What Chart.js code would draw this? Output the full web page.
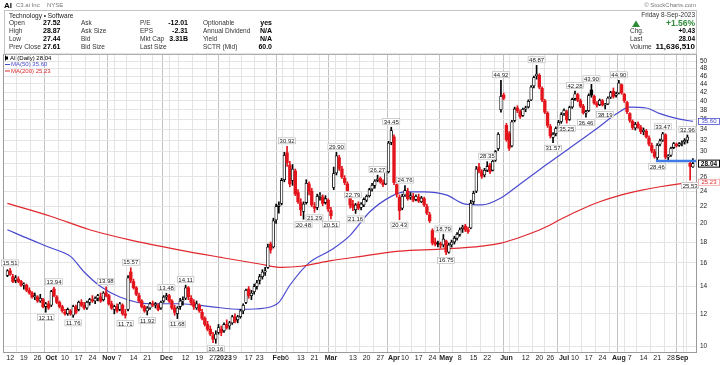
<!DOCTYPE html>
<html><head><meta charset="utf-8">
<script src="https://cdn.jsdelivr.net/npm/chart.js@4.4.1/dist/chart.umd.min.js"></script>
<style>html,body{margin:0;padding:0;background:#fff;}#wrap{width:720px;height:365px;}</style>
</head><body><div id="wrap"><canvas id="c" width="720" height="365"></canvas></div>
<script>
// ---------- DATA (daily candles, trading day index 0 = 9-Sep-2022 ... 250 = 8-Sep-2023) ----------
const opens=[14.9,15.3,14.8,14.5,14.6,14.4,14.1,14.1,13.7,13.5,
13.2,13.2,12.9,13.0,12.5,12.7,12.6,13.8,13.2,12.8,
12.5,12.1,12.0,12.2,11.9,12.5,12.3,12.8,12.6,12.4,
12.8,13.0,12.9,13.1,13.2,13.0,13.5,13.3,12.7,12.3,
12.5,12.3,12.6,12.0,12.3,15.2,14.4,13.9,13.3,12.9,
12.5,12.2,12.4,12.7,12.6,12.6,12.4,12.9,13.2,13.3,
12.9,12.4,12.0,12.5,12.9,13.1,13.9,13.1,12.8,12.4,
12.6,12.1,11.7,11.3,11.0,10.6,10.4,10.8,11.0,10.9,
11.3,11.2,11.4,11.8,11.6,11.8,12.2,12.8,13.8,13.3,
13.6,14.0,14.5,14.8,15.2,15.6,17.8,17.5,20.4,22.0,
22.4,25.6,29.8,27.8,25.5,26.9,23.8,22.5,21.4,22.5,
25.0,24.0,22.0,21.9,23.3,23.2,22.5,22.8,21.5,24.5,
26.6,29.0,27.2,25.8,25.0,23.5,22.3,21.6,22.3,21.9,
22.2,22.8,23.4,24.3,24.8,25.5,25.8,25.2,25.0,26.8,
31.6,32.6,24.9,23.2,21.8,23.5,24.0,23.2,23.3,22.9,
23.2,22.6,23.0,22.0,21.0,19.2,18.0,17.9,17.8,17.7,
18.1,17.0,17.7,18.0,18.4,18.8,19.4,19.7,19.3,19.5,
22.6,24.0,27.5,26.8,26.3,27.0,27.8,27.0,28.6,30.5,
38.0,41.3,34.8,33.2,31.0,35.8,38.4,37.6,36.8,38.2,
38.6,40.2,43.5,46.0,46.2,42.9,40.0,37.3,34.6,32.5,
33.2,34.4,35.6,37.2,37.6,36.0,38.6,40.5,41.4,40.0,
38.8,37.3,37.8,42.5,41.0,39.4,39.1,40.0,39.0,39.3,
40.8,42.2,41.2,41.8,43.8,41.5,39.6,37.2,35.6,34.3,
35.1,34.4,33.6,33.7,32.4,31.1,30.0,29.0,31.3,32.0,
33.0,29.1,29.4,30.7,31.3,31.1,31.4,31.7,32.0,28.1,
27.52];
const highs=[15.4,15.51,15.0,14.9,14.8,14.5,14.3,14.2,13.9,13.6,
13.5,13.3,13.4,13.1,12.8,12.9,13.7,13.94,13.3,12.9,
12.6,12.3,12.4,12.3,12.6,12.6,12.9,13.0,12.8,12.9,
13.1,13.3,13.2,13.4,13.5,13.6,13.98,13.4,12.9,12.6,
12.7,12.8,12.7,12.3,14.9,15.57,14.6,14.0,13.5,13.0,
12.6,12.5,12.8,12.9,12.8,12.7,12.9,13.3,13.48,13.4,
13.0,12.6,12.5,13.1,13.2,14.11,14.0,13.3,13.0,12.9,
12.7,12.3,11.8,11.5,11.2,10.8,10.9,11.3,11.2,11.4,
11.6,11.5,11.9,12.0,11.9,12.3,12.7,13.8,14.0,13.7,
14.2,14.5,15.0,15.4,15.6,17.8,18.0,20.6,22.3,22.6,
25.8,29.9,30.92,28.4,27.9,27.2,24.2,23.0,22.6,25.6,
25.3,24.4,22.5,23.6,23.8,23.5,23.4,23.0,21.9,27.5,
29.90,29.4,27.6,26.2,25.3,23.9,22.79,22.4,22.6,22.5,
23.1,23.5,24.4,25.1,25.6,26.27,26.0,25.6,26.9,31.8,
34.45,33.0,25.3,23.5,23.6,24.76,24.4,23.8,23.7,23.5,
23.6,23.3,23.2,22.3,21.3,19.4,18.4,18.1,18.0,18.79,
18.2,17.9,18.2,18.6,19.0,19.5,19.8,19.9,19.6,22.8,
24.0,27.6,28.1,27.1,27.3,28.35,28.1,28.6,30.2,33.4,
44.92,41.8,35.2,33.6,35.8,38.6,38.9,38.0,38.4,38.8,
40.2,43.6,46.0,48.87,46.6,43.3,40.3,37.6,35.0,33.4,
34.5,35.8,37.4,38.2,37.9,38.8,40.6,42.28,41.7,40.4,
39.2,37.9,41.6,43.90,41.3,39.8,40.4,40.3,39.4,40.9,
42.2,43.0,42.0,44.90,44.0,41.7,39.9,37.4,35.9,35.4,
35.5,34.8,34.3,34.0,32.8,31.5,30.4,31.4,32.2,33.47,
33.2,29.5,30.8,31.6,31.5,31.6,31.9,32.3,32.96,28.4,
28.87];
const lows=[14.8,14.9,14.3,14.3,14.3,14.0,13.8,13.6,13.4,13.1,
13.0,12.8,12.8,12.4,12.11,12.3,12.5,13.2,12.7,12.4,
12.1,11.9,11.9,11.9,11.76,12.0,12.2,12.5,12.3,12.3,
12.6,12.8,12.7,12.9,12.8,12.9,13.2,12.6,12.3,12.0,
12.1,12.2,11.9,11.71,12.2,14.3,13.8,13.3,12.8,12.4,
12.1,11.92,12.3,12.5,12.4,12.2,12.3,12.8,13.0,12.8,
12.3,11.9,11.68,12.3,12.6,13.0,13.0,12.6,12.3,12.3,
12.1,11.6,11.2,10.9,10.6,10.2,10.16,10.7,10.6,10.8,
11.0,11.0,11.3,11.4,11.4,11.7,12.0,12.7,13.1,13.0,
13.4,13.8,14.2,14.6,14.9,15.5,16.9,17.4,20.0,21.2,
22.2,25.3,27.6,24.6,24.8,23.4,22.4,20.9,20.48,22.3,
23.5,22.0,21.29,21.6,22.8,22.1,22.3,21.4,20.51,24.2,
26.3,27.0,25.8,24.9,23.2,21.8,21.5,21.16,21.6,21.6,
22.0,22.6,23.2,24.0,24.4,25.3,25.1,24.6,24.9,26.6,
31.2,24.9,23.2,20.43,21.6,23.3,22.8,22.9,22.6,22.7,
22.5,22.5,22.0,21.0,20.1,17.7,17.6,17.5,17.4,17.5,
16.75,16.9,17.5,17.8,18.2,18.6,19.0,19.1,18.9,19.4,
22.3,23.8,26.6,25.8,26.0,26.8,26.5,26.9,28.4,30.2,
37.5,40.2,31.8,30.2,30.8,35.5,37.4,36.2,36.6,37.6,
38.4,40.0,43.0,45.2,42.8,39.8,37.2,34.4,32.4,31.57,
32.8,34.0,35.2,36.8,35.25,35.8,38.3,40.1,39.8,38.5,
37.1,36.46,37.6,40.8,39.2,38.6,38.9,38.8,38.19,39.1,
40.5,40.6,40.8,41.6,41.5,39.6,37.2,35.4,34.0,33.9,
34.2,33.2,33.0,32.4,31.0,29.8,28.9,28.46,31.0,31.8,
28.8,28.6,29.2,30.5,30.8,30.9,31.0,31.3,31.5,25.53,
27.44];
const closes=[15.3,15.0,14.4,14.7,14.4,14.1,14.2,13.7,13.5,13.2,
13.3,12.9,13.1,12.5,12.7,12.4,13.6,13.3,12.8,12.5,
12.2,12.0,12.3,12.0,12.5,12.1,12.8,12.6,12.4,12.8,
13.0,12.9,13.1,13.3,12.9,13.5,13.3,12.7,12.4,12.5,
12.2,12.7,12.0,11.9,14.7,14.5,13.9,13.4,12.9,12.5,
12.2,12.4,12.7,12.6,12.7,12.3,12.8,13.2,13.3,12.9,
12.4,12.1,12.4,12.9,13.0,13.9,13.2,12.8,12.5,12.7,
12.2,11.7,11.3,11.0,10.7,10.4,10.7,11.1,10.8,11.3,
11.1,11.4,11.8,11.5,11.8,12.2,12.6,13.7,13.3,13.5,
14.0,14.3,14.8,15.2,15.3,17.5,17.2,20.3,22.0,22.2,
25.5,29.4,28.2,25.0,27.2,23.6,22.6,21.6,22.3,25.1,
24.0,22.2,21.8,23.3,23.4,22.4,23.0,21.7,20.9,26.5,
29.3,27.3,26.0,25.2,23.4,22.2,21.9,22.2,21.8,22.3,
22.9,23.3,24.2,24.8,25.4,25.7,25.3,24.9,26.7,31.5,
33.8,25.2,23.6,21.5,23.3,24.1,23.0,23.4,22.8,23.3,
22.7,23.1,22.2,21.2,20.3,17.9,17.8,17.8,17.7,18.3,
17.0,17.7,18.0,18.4,18.8,19.3,19.6,19.3,19.1,22.4,
23.7,27.2,26.9,26.1,27.0,27.6,26.8,28.4,30.0,33.1,
41.0,40.6,32.1,30.6,35.5,38.2,37.8,36.6,38.1,38.4,
39.9,43.2,45.6,46.5,43.2,40.2,37.5,34.8,32.8,33.1,
34.2,35.4,37.0,37.9,35.9,38.5,40.3,41.6,40.1,38.8,
37.4,37.6,41.2,41.3,39.5,39.0,40.1,39.1,39.2,40.6,
41.9,41.0,41.6,44.2,41.8,40.0,37.6,35.8,34.4,35.0,
34.5,33.6,33.9,32.6,31.3,30.1,29.2,31.1,31.9,33.2,
29.1,29.3,30.6,31.4,31.0,31.4,31.6,32.0,32.6,27.61,
28.04];

// Moving averages (trading-day index, value)
const ma50Idx=[0,8,16,23,28,34,41,52,63,74,85,94,99,103,110,118,125,132,140,145,152,160,167,173,180,187,196,205,215,222,227,233,238,244,250];
const ma50Val=[19.3,18.3,17.4,16.6,15.2,14.0,13.2,12.7,12.7,12.5,12.3,12.4,12.8,14.1,16.0,17.2,18.7,21.3,23.3,23.9,23.9,23.5,22.3,22.2,23.1,25.0,27.7,30.6,34.2,37.1,38.6,38.4,37.2,36.2,35.6];
const ma200Idx=[0,16,30,45,63,78,92,100,107,118,129,143,158,173,180,187,195,202,209,216,224,231,238,245,250];
const ma200Val=[22.4,20.8,19.3,18.2,17.2,16.5,15.9,15.6,15.7,16.2,16.6,17.1,17.3,17.6,17.9,18.5,19.4,20.5,21.6,22.6,23.5,24.1,24.6,25.0,25.23];

// Horizontal support line
const supportFrom=237, supportLevel=28.46;

// Labelled highs / lows (trading-day index)
const highLabelIdx=[1,17,36,45,58,65,102,120,126,135,140,145,159,175,180,193,207,213,223,239,248];
const lowLabelIdx=[14,24,43,51,62,76,108,112,118,127,143,160,199,204,211,218,237,249];

// Axis ticks
const xTickIdx=[1,6,11,16,21,26,31,36,37,41,46,51,55,58,60,65,70,75,79,83,88,92,97,99,102,107,112,116,118,121,126,131,136,141,145,150,155,160,165,170,175,180,182,184,189,194,198,203,207,212,217,222,223,227,232,237,242,246,247];
const xTickLbl=['12','19','26','Oct','10','17','24','','Nov','7','14','21','','Dec','','12','19','27','2023','9','17','23','','Feb','6','13','21','','Mar','','13','20','27','Apr','10','17','24','May','8','15','22','','Jun','','12','20','26','Jul','10','17','24','','Aug','7','14','21','28','Sep',''];
const monthTickIdx=[16,37,58,79,99,118,141,160,182,203,223,246];
const yTicks=[10,12,14,16,18,20,22,24,26,28,30,32,34,36,38,40,42,44,46,48,50];

// Header text
const infoRows=[
 ['Open','27.52','Ask','','P/E','-12.01','Optionable','yes'],
 ['High','28.87','Ask Size','','EPS','-2.31','Annual Dividend','N/A'],
 ['Low','27.44','Bid','','Mkt Cap','3.31B','Yield','N/A'],
 ['Prev Close','27.61','Bid Size','','Last Size','','SCTR (Mid)','60.0']];
const quoteDate='Friday 8-Sep-2023', quotePct='+1.56%', quoteChg='+0.43', quoteLast='28.04', quoteVol='11,636,510';
const legendLast='28.04', legendMa50='35.60', legendMa200='25.23';

// ---------- CHART ----------
const FONT='"Liberation Sans", Arial, sans-serif';
Chart.defaults.font.family=FONT;
const RED='#e3141b', BLK='#000000', BLUE='#4a4ad0', MARED='#e0282e';
const col=closes.map((c,i)=> c < (i?closes[i-1]:opens[i]) ? RED : BLK);
const hollow=closes.map((c,i)=> c>=opens[i]);
const ids=closes.map((_,i)=>i);
const xLabelMap={}; xTickIdx.forEach((v,k)=>xLabelMap[v]=xTickLbl[k]);
const monthSet=new Set(monthTickIdx);

function box(g,text,cx,cy,o){
  g.font=o.font; const w=g.measureText(text).width+3, h=o.h||7;
  let x=o.left!==undefined? o.left : cx-w/2;
  g.fillStyle=o.fill||'#fff'; g.fillRect(x,cy-h/2,o.w||w,h);
  g.strokeStyle=o.stroke||'#b0b0b0'; g.lineWidth=o.lw||0.6; g.strokeRect(x+0.5,cy-h/2+0.5,(o.w||w)-1,h-1);
  g.fillStyle=o.color||'#222'; g.textAlign='center'; g.textBaseline='middle';
  g.fillText(text,x+(o.w||w)/2,cy+0.4);
}

const deco={
  id:'deco',
  beforeDraw(c){const g=c.ctx;g.save();g.fillStyle='#fff';g.fillRect(0,0,c.width,c.height);g.restore();},
  afterDraw(c){
    const g=c.ctx, a=c.chartArea, xs=c.scales.x, ys=c.scales.y;
    g.save();
    g.strokeStyle='#9a9a9a'; g.lineWidth=1; g.strokeRect(a.left+0.5,a.top+0.5,a.right-a.left-1,a.bottom-a.top);
    highLabelIdx.forEach(i=>box(g,highs[i].toFixed(2),xs.getPixelForValue(i),ys.getPixelForValue(highs[i])-5.5,{font:'6px '+FONT}));
    lowLabelIdx.forEach(i=>box(g,lows[i].toFixed(2),xs.getPixelForValue(i),ys.getPixelForValue(lows[i])+5.5,{font:'6px '+FONT}));
    box(g,legendMa50,0,ys.getPixelForValue(ma50Val[ma50Val.length-1]),{font:'6px '+FONT,left:a.right+1,w:22,stroke:BLUE,color:BLUE,lw:0.8});
    box(g,legendMa200,0,ys.getPixelForValue(ma200Val[ma200Val.length-1]),{font:'6px '+FONT,left:a.right+1,w:22,stroke:'#f0a0a0',color:MARED,lw:0.8});
    box(g,quoteLast,0,ys.getPixelForValue(closes[closes.length-1]),{font:'bold 6.5px '+FONT,left:a.right+1,w:22,stroke:'#000',color:'#000',lw:1,h:8});
    g.textAlign='left'; g.textBaseline='middle';
    g.fillStyle='#000'; g.fillRect(5,a.top+1.5,1,5); g.fillRect(6,a.top+2.5,2,3);
    g.font='6px '+FONT; g.fillText('AI (Daily) '+legendLast,10,a.top+4);
    g.fillStyle=BLUE; g.fillRect(5,a.top+10,5,1); g.fillText('MA(50) '+legendMa50,11,a.top+10.5);
    g.fillStyle=MARED; g.fillRect(5,a.top+16.5,5,1); g.fillText('MA(200) '+legendMa200,11,a.top+17);
    g.fillStyle='#000'; g.font='bold 8px '+FONT; g.fillText('AI',4,5.5);
    g.font='6px '+FONT; g.fillStyle='#777'; g.fillText('C3.ai Inc',16,5.5); g.fillText('NYSE',47,5.5);
    g.textAlign='right'; g.fillText('\u00A9 StockCharts.com',696,5.5);
    g.strokeStyle='#c4c4c4'; g.lineWidth=1; g.strokeRect(4.5,10.5,692,a.top-10.5);
    g.textAlign='left'; g.fillStyle='#222'; g.font='6.5px '+FONT; g.fillText('Technology \u2022 Software',9,16);
    const ry=[23.5,31.5,39.5,47];
    infoRows.forEach((r,k)=>{
      const y=ry[k];
      g.font='6.5px '+FONT; g.fillStyle='#333'; g.textAlign='left';
      g.fillText(r[0],9,y); g.fillText(r[2],81,y); g.fillText(r[4],140,y); g.fillText(r[6],203,y);
      g.font='bold 7px '+FONT; g.fillStyle='#000';
      g.fillText(r[1],43,y);
      g.textAlign='right'; g.fillText(r[5],188,y); g.fillText(r[7],272,y);
    });
    g.textAlign='right'; g.font='6.5px '+FONT; g.fillStyle='#333'; g.fillText(quoteDate,695,15.5);
    g.fillStyle='#2e8b3a'; g.font='bold 8.5px '+FONT; g.fillText(quotePct,695,24);
    g.beginPath(); g.moveTo(632,27); g.lineTo(636,20.5); g.lineTo(640,27); g.closePath(); g.fill();
    g.textAlign='left'; g.fillStyle='#333'; g.font='6.5px '+FONT;
    g.fillText('Chg.',630,31.5); g.fillText('Last',630,39.5); g.fillText('Volume',630,47);
    g.textAlign='right'; g.fillStyle='#000'; g.font='bold 6.5px '+FONT;
    g.fillText(quoteChg,695,31.5); g.fillText(quoteLast,695,39.5);
    g.font='bold 8px '+FONT; g.fillText(quoteVol,695,47);
    g.restore();
  }
};

new Chart(document.getElementById('c'),{
  type:'bar',
  data:{datasets:[
    {type:'line',label:'MA50',data:ma50Idx.map((x,k)=>({x,y:ma50Val[k]})),borderColor:BLUE,borderWidth:1.2,pointRadius:0,cubicInterpolationMode:'monotone',order:5},
    {type:'line',label:'MA200',data:ma200Idx.map((x,k)=>({x,y:ma200Val[k]})),borderColor:MARED,borderWidth:1.2,pointRadius:0,cubicInterpolationMode:'monotone',order:4},
    {type:'line',label:'support',data:[{x:supportFrom-0.5,y:supportLevel},{x:251.5,y:supportLevel}],borderColor:'#3f7be6',borderWidth:2.5,pointRadius:0,order:0},
    {label:'wick',data:ids.map(i=>({x:i,y:[lows[i],highs[i]]})),backgroundColor:ctx=>col[ctx.dataIndex],barThickness:1,grouped:false,borderWidth:0,order:2},
    {label:'body',data:ids.map(i=>({x:i,y:[opens[i],closes[i]]})),
      backgroundColor:ctx=>hollow[ctx.dataIndex]?'#ffffff':col[ctx.dataIndex],
      borderColor:ctx=>col[ctx.dataIndex],
      borderWidth:ctx=>hollow[ctx.dataIndex]?0.8:0,
      borderSkipped:false,barThickness:2.7,minBarLength:1,grouped:false,order:1}
  ]},
  options:{
    responsive:false,animation:false,devicePixelRatio:1,
    layout:{padding:{top:54,left:3,right:0,bottom:0}},
    plugins:{legend:{display:false},tooltip:{enabled:false}},
    scales:{
      x:{type:'linear',min:-1.6,max:251.5,offset:false,position:'bottom',
        grid:{color:ctx=>monthSet.has(ctx.tick&&ctx.tick.value)?'#c2c2c2':'#e4e4e4',lineWidth:1,drawTicks:false},
        border:{display:false},
        ticks:{autoSkip:false,maxRotation:0,padding:2,color:'#222',
          font:ctx=>({size:7,family:FONT,weight:(ctx.tick&&monthSet.has(ctx.tick.value))?'bold':'normal'}),
          callback:v=>xLabelMap[v]!==undefined?xLabelMap[v]:''},
        afterBuildTicks:s=>{s.ticks=xTickIdx.map(v=>({value:v}));},
        afterFit:s=>{s.height=13;}
      },
      y:{type:'logarithmic',position:'right',min:9.67,max:52.1,
        grid:{color:'#e4e4e4',drawTicks:false},border:{display:false},
        ticks:{padding:3,color:'#222',font:{size:6.5,family:FONT},callback:v=>String(v)},
        afterBuildTicks:s=>{s.ticks=yTicks.map(v=>({value:v}));},
        afterFit:s=>{s.width=23;}
      }
    }
  },
  plugins:[deco]
});
</script></body></html>
